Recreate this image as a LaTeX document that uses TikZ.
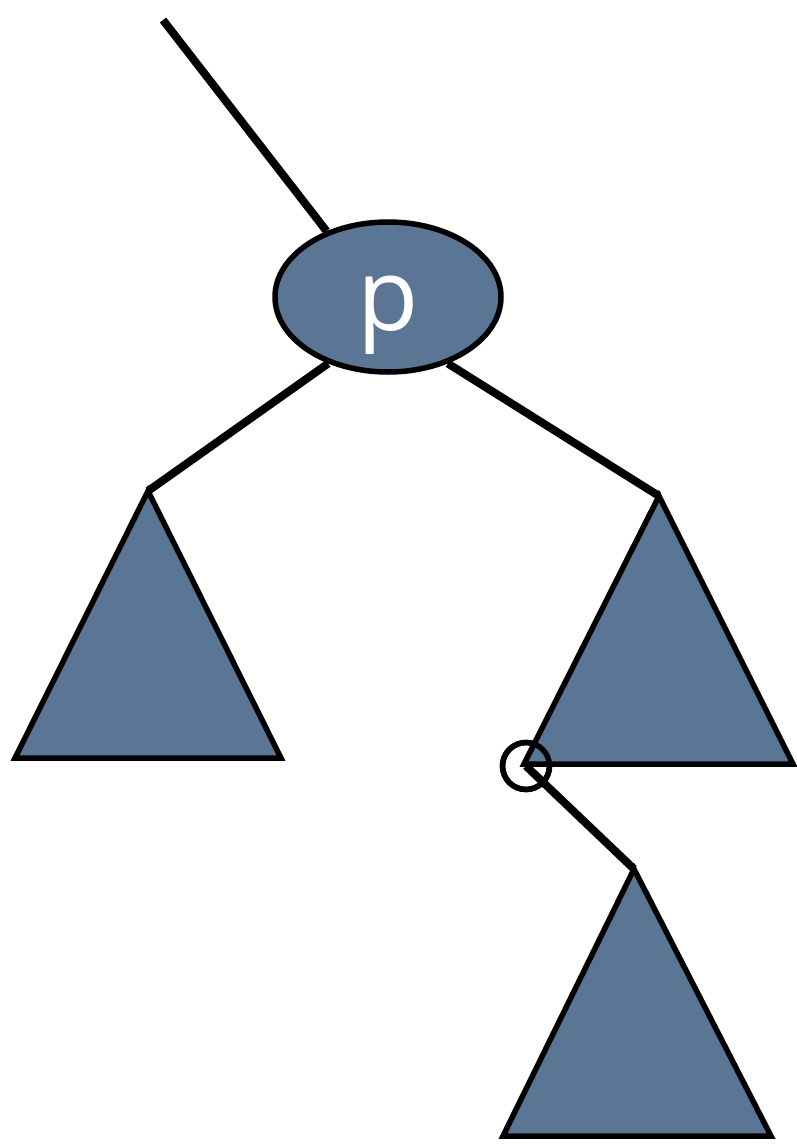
\documentclass[tikz,border=0pt]{standalone}
\usepackage{fontspec}
\setsansfont{Open Sans}
\usetikzlibrary{shapes.geometric}
\definecolor{slate}{HTML}{5B7694}
\tikzset{
  edge/.style={line width=8pt, line cap=butt},
  tri/.style={fill=slate, draw=black, line width=5.5pt, line join=miter},
  pnode/.style={ellipse, fill=slate, draw=black, line width=5.5pt, minimum width=226pt, minimum height=150pt, inner sep=0pt},
  hole/.style={circle, draw=black, line width=5.5pt, minimum size=47pt, inner sep=0pt}
}
\begin{document}
\begin{tikzpicture}[x=1pt,y=-1pt]
\useasboundingbox (0,0) rectangle (796,1144);
\node[pnode] (p) at (388,297) {};
\node[text=white, font=\sffamily\fontsize{100}{100}\selectfont, anchor=base, inner sep=0pt] (plabel) at (388,330) {p};
\coordinate (top) at (163,20);
\coordinate (la) at (148,491);
\coordinate (ra) at (659,496);
\coordinate (ba) at (634,869);
\node[hole] (c) at (526,766) {};
% triangles
\draw[tri] (la) -- (15,758) -- (281,758) -- cycle;
\draw[tri] (ra) -- (524,764) -- (793,764) -- cycle;
\draw[tri] (ba) -- (503,1136) -- (771,1136) -- cycle;
% edges
\draw[edge] (top) -- (p.133);
\draw[edge] (p.-132) -- (la);
\draw[edge] (p.-48) -- (ra);
\draw[edge] (c.center) -- (ba);
\node[hole] at (c) {};
\end{tikzpicture}
\end{document}
